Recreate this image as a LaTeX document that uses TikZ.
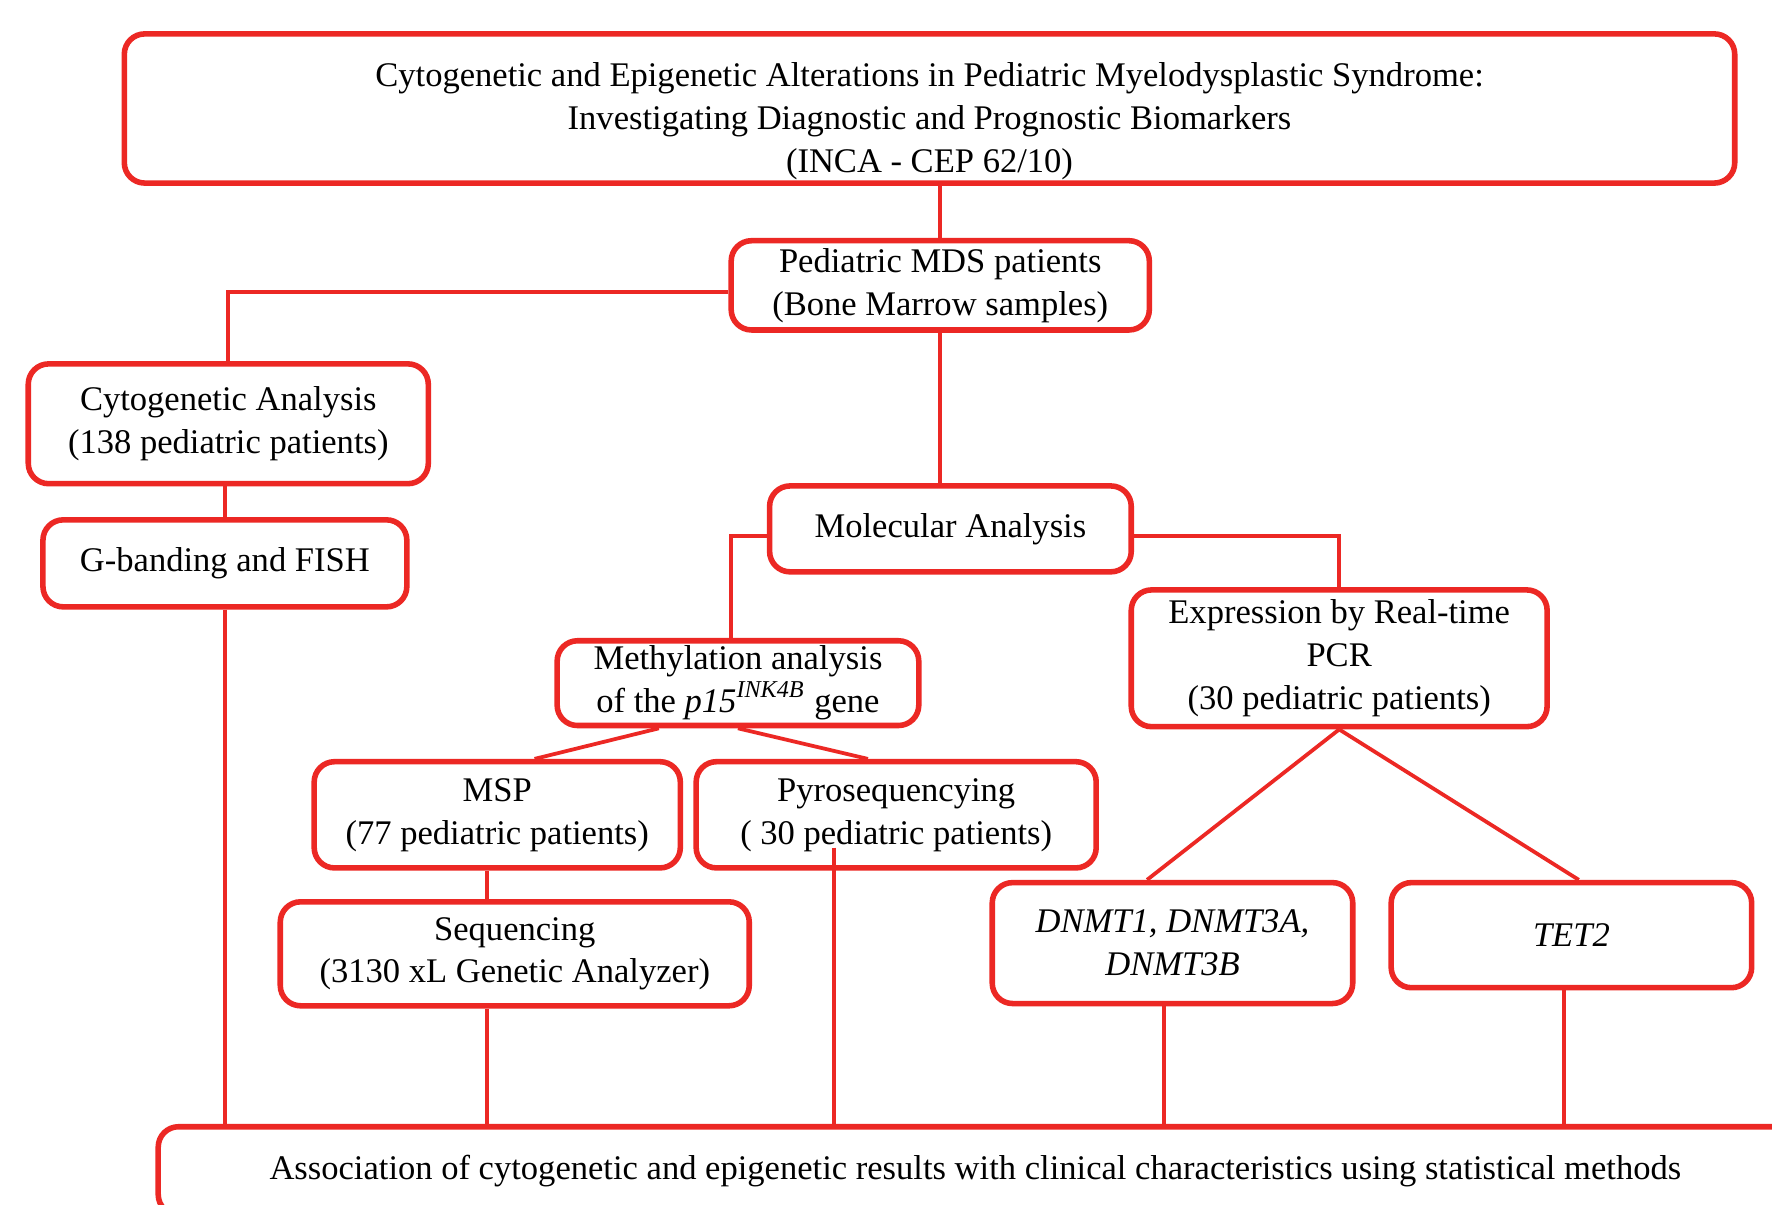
\documentclass[tikz,border=0pt]{standalone}
\usepackage{fontspec}
\setmainfont{Liberation Serif}
\usetikzlibrary{calc}
\definecolor{boxred}{RGB}{236,40,36}

\begin{document}
\begin{tikzpicture}[
  box/.style={draw=boxred, line width=1.4pt, rounded corners=1.8mm, align=center, inner sep=0pt,
    font=\fontsize{8.7}{10.8}\selectfont},
  link/.style={boxred, line width=0.95pt}]
\clip (0,0) rectangle (15.68,-10.66);
\useasboundingbox (0,0) rectangle (15.68,-10.66);
\fill[white] (0,0) rectangle (15.68,-10.66);

% boxes
\node[box, minimum width=14.25cm, minimum height=1.32cm] (title) at (8.225,-0.96) {\raisebox{-1.1mm}[\height][\depth]{\begin{tabular}{@{}c@{}}Cytogenetic and Epigenetic Alterations in Pediatric Myelodysplastic Syndrome:\\ Investigating Diagnostic and Prognostic Biomarkers\\ (INCA - CEP 62/10)\end{tabular}}};
\node[box, minimum width=3.70cm, minimum height=0.79cm] (patients) at (8.32,-2.525) {Pediatric MDS patients\\ (Bone Marrow samples)};
\node[box, minimum width=3.54cm, minimum height=1.06cm] (cyto) at (2.02,-3.75) {Cytogenetic Analysis\\ (138 pediatric patients)};
\node[box, minimum width=3.22cm, minimum height=0.77cm] (gband) at (1.99,-4.985) {G-banding and FISH};
\node[box, minimum width=3.20cm, minimum height=0.76cm] (molec) at (8.41,-4.68) {Molecular Analysis};
\node[box, minimum width=3.20cm, minimum height=0.75cm] (methyl) at (6.53,-6.045) {Methylation analysis\\ of the \textit{p15}\textsuperscript{\textit{INK4B}} gene};
\node[box, minimum width=3.68cm, minimum height=1.21cm] (expr) at (11.85,-5.825) {Expression by Real-time\\ PCR\\ (30 pediatric patients)};
\node[box, minimum width=3.24cm, minimum height=0.94cm] (msp) at (4.40,-7.21) {MSP\\ (77 pediatric patients)};
\node[box, minimum width=3.54cm, minimum height=0.94cm] (pyro) at (7.93,-7.21) {Pyrosequencying\\ ( 30 pediatric patients)};
\node[box, minimum width=4.15cm, minimum height=0.92cm] (seq) at (4.555,-8.44) {Sequencing\\ (3130 xL Genetic Analyzer)};
\node[box, minimum width=3.19cm, minimum height=1.07cm] (dnmt) at (10.375,-8.345) {\textit{DNMT1, DNMT3A,}\\ \textit{DNMT3B}};
\node[box, minimum width=3.19cm, minimum height=0.93cm] (tet) at (13.905,-8.275) {\textit{TET2}};
\node[box, minimum width=14.46cm, minimum height=0.78cm] (assoc) at (8.63,-10.36) {Association of cytogenetic and epigenetic results with clinical characteristics using statistical methods};

% connectors
\draw[link] (patients.north |- title.south) -- (patients.north);
\draw[link] ([yshift=-0.6mm]patients.west) -| (cyto.north);
\draw[link] (gband.north |- cyto.south) -- (gband.north);
\draw[link] (gband.south) -- (gband.south |- assoc.north);
\draw[link] (patients.south) -- (patients.south |- molec.north);
\draw[link] ([yshift=-0.6mm]molec.west) -| ([xshift=-0.6mm]methyl.north);
\draw[link] ([yshift=-0.6mm]molec.east) -| (expr.north);
\draw[link] ([xshift=-7mm]methyl.south) -- ([xshift=3.3mm]msp.north);
\draw[link] (methyl.south) -- ([xshift=-2.5mm]pyro.north);
\draw[link] (4.31,0 |- msp.south) -- (4.31,0 |- seq.north);
\draw[link] (4.31,0 |- seq.south) -- (4.31,0 |- assoc.north);
\coordinate (pyrodrop) at (7.38,-7.50);
\draw[link] (pyrodrop) -- (pyrodrop |- assoc.north);
\draw[link] (expr.south) -- ([xshift=-2.25mm]dnmt.north);
\draw[link] (expr.south) -- ([xshift=0.65mm]tet.north);
\draw[link] ([xshift=-0.75mm]dnmt.south) -- ([xshift=-0.75mm]dnmt.south |- assoc.north);
\draw[link] ([xshift=-0.65mm]tet.south) -- ([xshift=-0.65mm]tet.south |- assoc.north);
\end{tikzpicture}
\end{document}
